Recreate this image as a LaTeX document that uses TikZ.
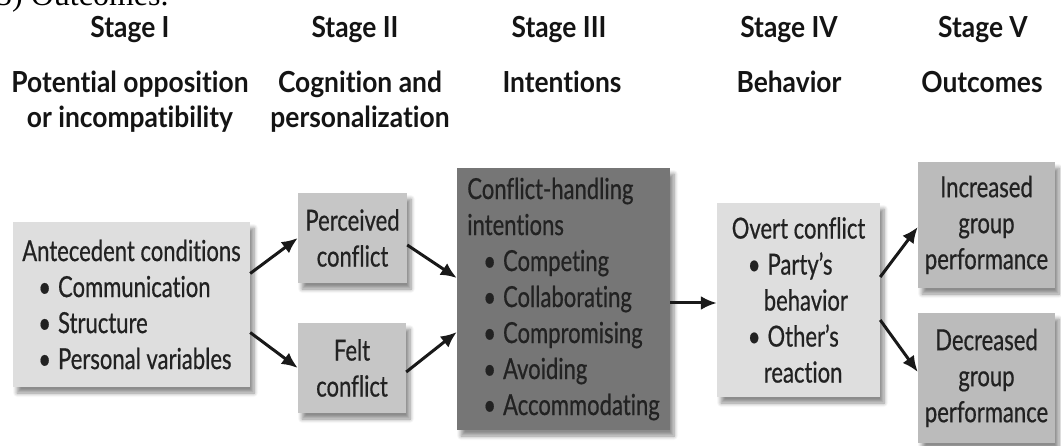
\documentclass[tikz,border=0pt]{standalone}
\usepackage{fontspec}
\setmainfont{Lato}[Ligatures=NoCommon,FakeStretch=0.76,FakeBold=0.6,
  BoldFeatures={FakeStretch=0.91,FakeBold=0}]
\newfontfamily\pageserif{Liberation Serif}
\usetikzlibrary{arrows.meta,shadows.blur}
\definecolor{boxlight}{HTML}{DEDEDE}
\definecolor{boxmid}{HTML}{C6C6C6}
\definecolor{boxout}{HTML}{BBBBBB}
\definecolor{boxdark}{HTML}{767676}
\definecolor{inktext}{HTML}{222222}
\definecolor{headtext}{HTML}{141414}

\newcommand{\bitem}[1]{\hspace*{16pt}\textbullet\hspace{7pt}#1}
\newcommand{\bcont}[1]{\hspace*{32pt}#1}

\begin{document}
\begin{tikzpicture}[x=1pt,y=-1pt,
  stagebox/.style={rectangle,inner sep=0pt,text=inktext,
    font=\fontsize{29}{36}\selectfont,
    blur shadow={shadow xshift=4pt,shadow yshift=-6pt,shadow blur steps=6,
      shadow blur radius=4pt,shadow opacity=45}},
  stagehead/.style={anchor=base,text=headtext,font=\bfseries\fontsize{29}{35}\selectfont},
  stagetitle/.style={anchor=base,align=center,text=headtext,font=\bfseries\fontsize{29}{35}\selectfont},
  flow/.style={-{Latex[length=16pt,width=14pt]},line width=3pt,black!90}]
\useasboundingbox (0,0) rectangle (1061,446);

% line of the page above the figure, cut off by the top edge
\node[anchor=base west,inner sep=0pt,font=\pageserif\fontsize{32}{36}\selectfont] (pageline) at (-4,6) {5) Outcomes.};

% stage headings
\node[stagehead] (s1) at (130,38) {Stage I};
\node[stagehead] (s2) at (355,38) {Stage II};
\node[stagehead] (s3) at (559,38) {Stage III};
\node[stagehead] (s4) at (789,38) {Stage IV};
\node[stagehead] (s5) at (983,38) {Stage V};

% two-line titles sit on the baseline of their last line
\node[stagetitle] (t1) at (130,128) {Potential opposition\\or incompatibility};
\node[stagetitle] (t2) at (360,128) {Cognition and\\personalization};
\node[stagetitle] (t3) at (562,93) {Intentions};
\node[stagetitle] (t4) at (789,93) {Behavior};
\node[stagetitle] (t5) at (982,93) {Outcomes};

% boxes
\node[stagebox,fill=boxlight,align=left,minimum width=237pt,minimum height=165pt] (ante) at (131.5,304.5)
  {Antecedent conditions\\\bitem{Communication}\\\bitem{Structure}\\\bitem{Personal variables}};
\node[stagebox,fill=boxmid,align=center,minimum width=109pt,minimum height=90pt] (perc) at (352.5,238)
  {Perceived\\conflict};
\node[stagebox,fill=boxmid,align=center,minimum width=108pt,minimum height=90pt] (felt) at (352,368)
  {Felt\\conflict};
\node[stagebox,fill=boxdark,align=left,minimum width=213pt,minimum height=262pt] (intent) at (563.5,299)
  {Conflict-handling\\intentions\\\bitem{Competing}\\\bitem{Collaborating}\\\bitem{Compromising}\\\bitem{Avoiding}\\\bitem{Accommodating}};
\node[stagebox,fill=boxlight,align=left,minimum width=163pt,minimum height=194pt] (overt) at (798.5,300)
  {Overt conflict\\\bitem{Party’s}\\\bcont{behavior}\\\bitem{Other’s}\\\bcont{reaction}};
\node[stagebox,fill=boxout,align=center,minimum width=137pt,minimum height=126pt] (incr) at (986.5,225)
  {Increased\\group\\performance};
\node[stagebox,fill=boxout,align=center,minimum width=137pt,minimum height=130pt] (decr) at (986.5,378)
  {Decreased\\group\\performance};

% connectors
\draw[flow] ([yshift=31pt]ante.east) -- (perc.west);
\draw[flow] ([yshift=-28pt]ante.east) -- (felt.west);
\draw[flow] ([yshift=-7pt]perc.east) -- ([yshift=21pt]intent.west);
\draw[flow] ([yshift=-4pt]felt.east) -- ([yshift=-33pt]intent.west);
\draw[flow] ([yshift=-4pt]intent.east) -- ([yshift=-3pt]overt.west);
\draw[flow] ([yshift=23pt]overt.east) -- ([yshift=-2pt]incr.west);
\draw[flow] ([yshift=-20pt]overt.east) -- ([yshift=6pt]decr.west);
\end{tikzpicture}
\end{document}
